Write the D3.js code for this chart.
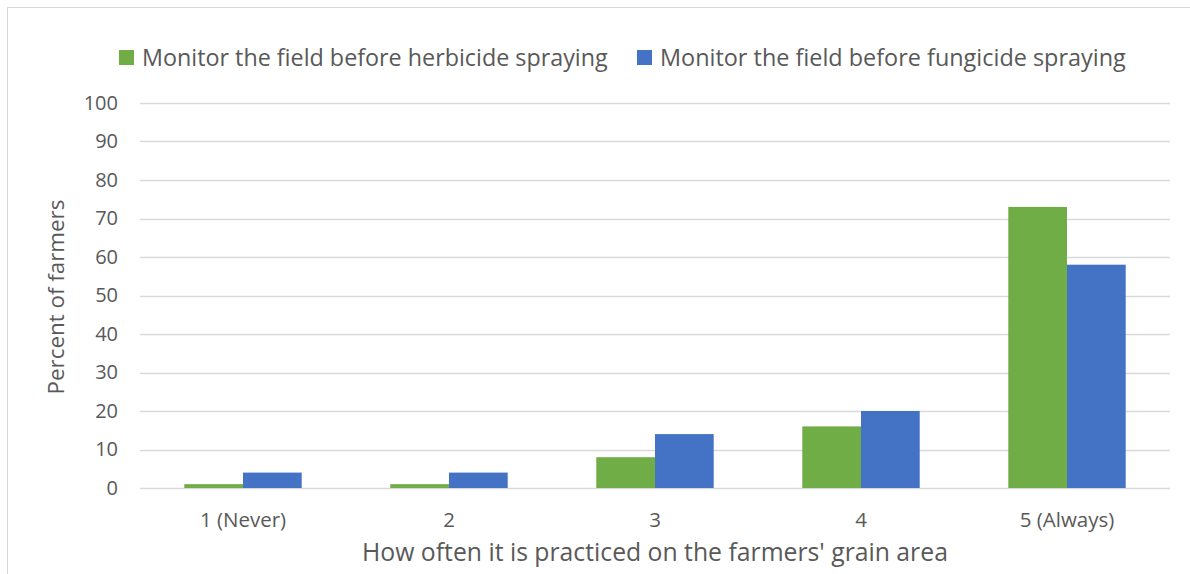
<!DOCTYPE html>
<html>
<head>
<meta charset="utf-8">
<script src="https://cdn.jsdelivr.net/npm/d3@7"></script>
<style>
  body { margin: 0; background: #fff; }
  text { font-family: "Open Sans", "Noto Sans", sans-serif; fill: #595959; }
</style>
</head>
<body>
<svg id="chart" width="1190" height="574"></svg>
<script>
var categories = ["1 (Never)", "2", "3", "4", "5 (Always)"];
var herbicide = [1, 1, 8, 16, 73];
var fungicide = [4, 4, 14, 20, 58];
var seriesNames = ["Monitor the field before herbicide spraying", "Monitor the field before fungicide spraying"];
var seriesColors = ["#70ad47", "#4472c4"];
var yTicks = [0, 10, 20, 30, 40, 50, 60, 70, 80, 90, 100];

var svg = d3.select("#chart");
var margin = {left: 140, right: 20, top: 103, bottom: 86};
var width = 1190 - margin.left - margin.right,
    height = 574 - margin.top - margin.bottom;

// squeeze a text to a given width (Calibri is narrower than what we have)
function fitWidth(sel, size, target) {
  sel.each(function () {
    var w = this.getComputedTextLength();
    if (w > 0) d3.select(this).style("font-size", (size * target / w) + "px");
  });
}

// chart border
svg.append("rect")
  .attr("x", 7.5).attr("y", 7.5)
  .attr("width", 1200).attr("height", 600)
  .attr("fill", "none").attr("stroke", "#d9d9d9");

var g = svg.append("g").attr("transform", "translate(" + margin.left + "," + margin.top + ")");

var x = d3.scaleBand().domain(categories).range([0, width]).paddingInner(0.43).paddingOuter(0.215);
var x1 = d3.scaleBand().domain([0, 1]).range([0, x.bandwidth()]);
var y = d3.scaleLinear().domain([0, 100]).range([height, 0]);

// gridlines
g.append("g").selectAll("line").data(yTicks).join("line")
  .attr("x1", 0).attr("x2", width)
  .attr("y1", function (d) { return Math.round(y(d)) + 0.5; })
  .attr("y2", function (d) { return Math.round(y(d)) + 0.5; })
  .attr("stroke", "#d9d9d9").attr("stroke-width", 1.3);

var rows = categories.map(function (c, i) { return {cat: c, vals: [herbicide[i], fungicide[i]]}; });

g.append("g").selectAll("g").data(rows).join("g")
  .attr("transform", function (d) { return "translate(" + x(d.cat) + ",0)"; })
  .selectAll("rect").data(function (d) { return d.vals; }).join("rect")
  .attr("x", function (d, i) { return x1(i); })
  .attr("width", x1.bandwidth())
  .attr("y", function (d) { return y(d); })
  .attr("height", function (d) { return y(0) - y(d); })
  .attr("fill", function (d, i) { return seriesColors[i]; });

// y axis
var yAxis = g.append("g").attr("transform", "translate(-22,0)")
  .call(d3.axisLeft(y).tickValues(yTicks).tickSize(0).tickPadding(0));
yAxis.select(".domain").remove();
yAxis.selectAll("text").style("font-size", "20px").attr("fill", "#595959");

// x axis
var xAxis = g.append("g").attr("transform", "translate(0," + height + ")")
  .call(d3.axisBottom(x).tickSize(0).tickPadding(24));
xAxis.select(".domain").remove();
xAxis.selectAll("text").style("font-size", "20.5px").attr("fill", "#595959");

// axis titles
svg.append("text")
  .attr("x", margin.left + width / 2).attr("y", 561)
  .attr("text-anchor", "middle").style("font-size", "20px")
  .text("How often it is practiced on the farmers' grain area")
  .call(fitWidth, 20, 586);

svg.append("text")
  .attr("transform", "translate(64,297) rotate(-90)")
  .attr("text-anchor", "middle").style("font-size", "20px")
  .text("Percent of farmers")
  .call(fitWidth, 20, 195);

// legend
var legendX = [119, 637];
var legend = svg.append("g").selectAll("g").data(seriesNames).join("g")
  .attr("transform", function (d, i) { return "translate(" + legendX[i] + ",50)"; });
legend.append("rect").attr("width", 15).attr("height", 15)
  .attr("fill", function (d, i) { return seriesColors[i]; });
legend.append("text").attr("x", 23).attr("y", 16)
  .style("font-size", "21px")
  .text(function (d) { return d; })
  .call(fitWidth, 21, 466);
</script>
</body>
</html>
